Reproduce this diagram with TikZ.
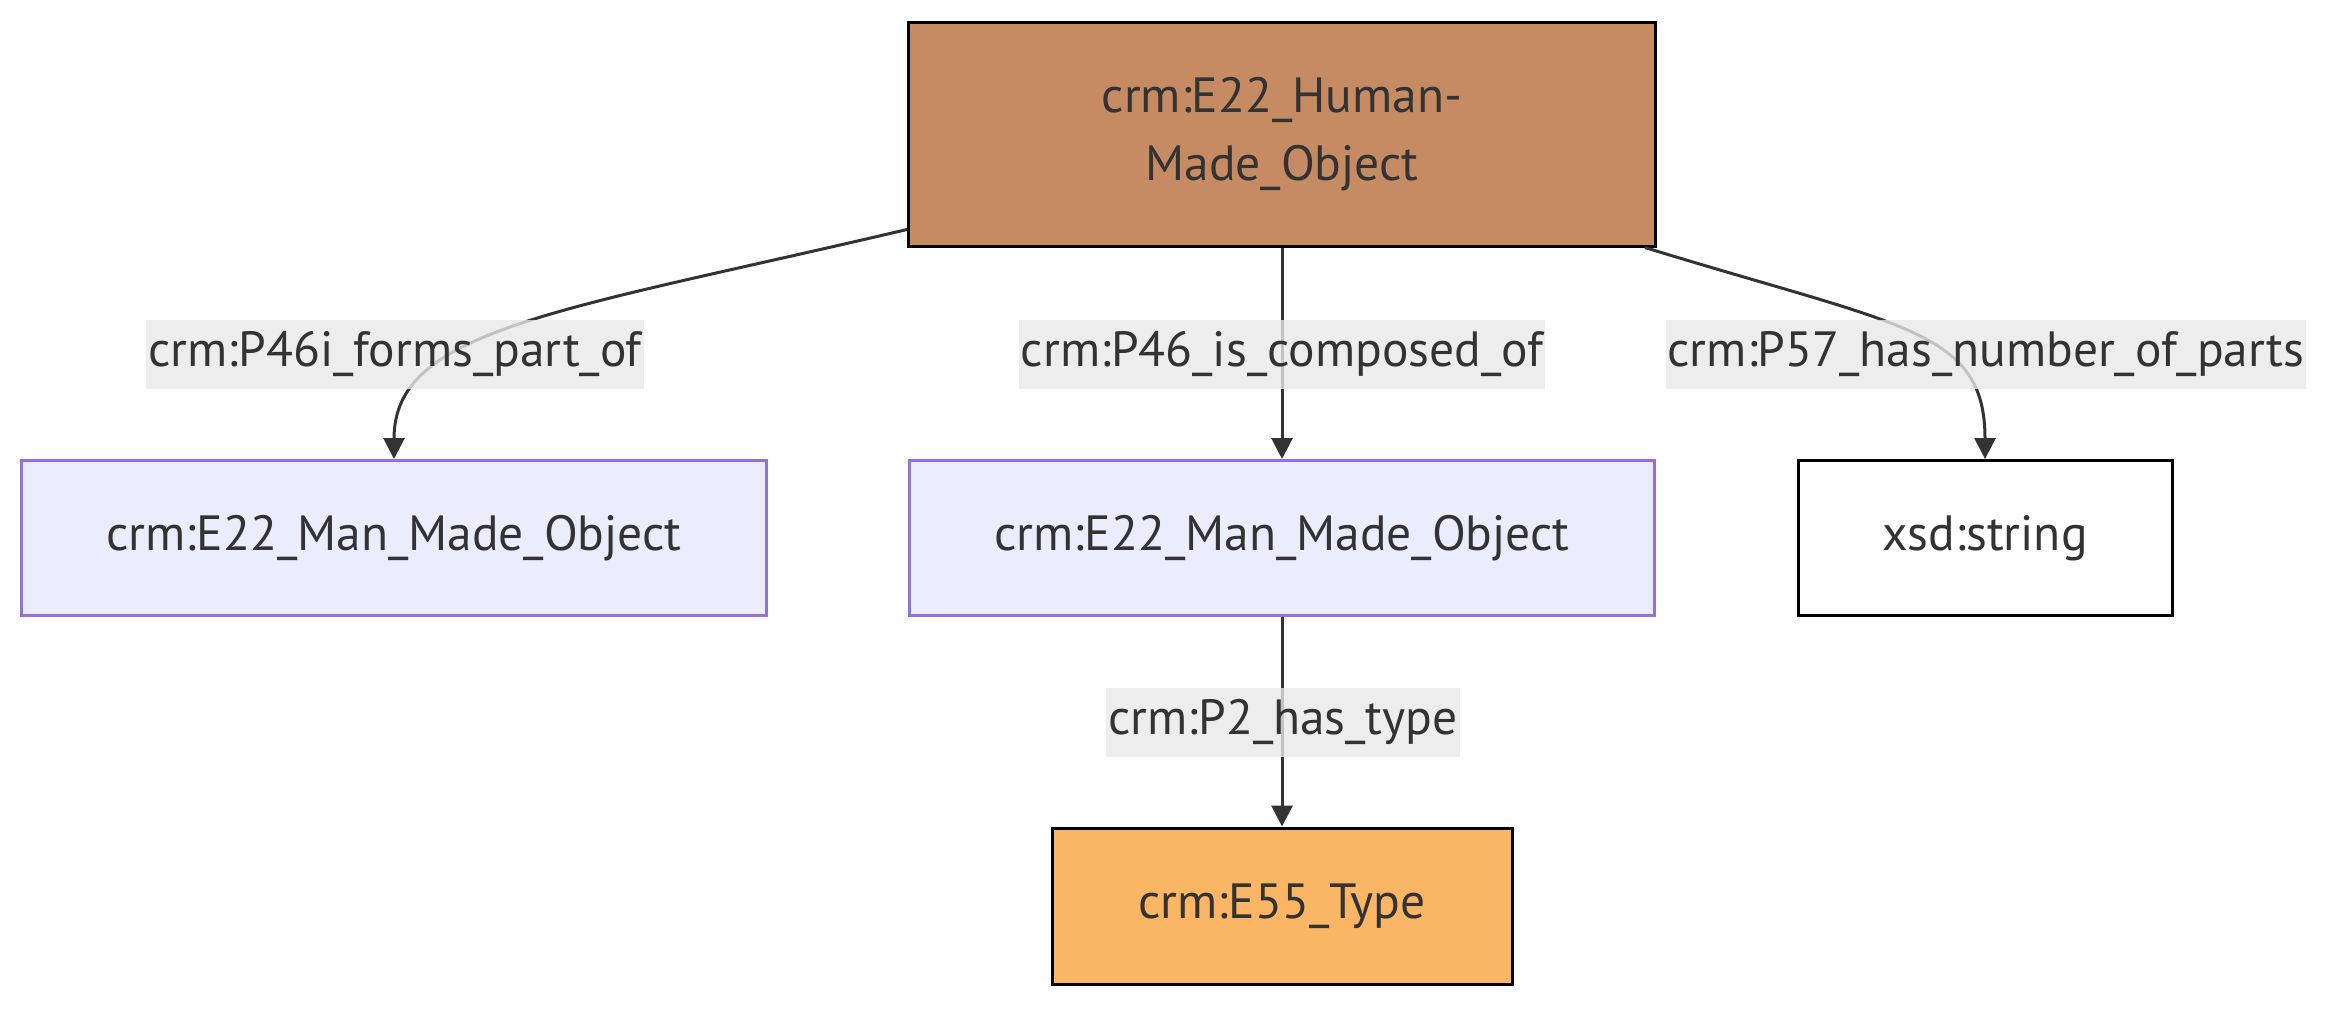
\documentclass[tikz,border=0pt]{standalone}
\usepackage{fontspec}
\setmainfont{PT Sans}
\usepackage{tikz}
\usetikzlibrary{arrows.meta}
\definecolor{objbrown}{RGB}{198,139,99}
\definecolor{typeorange}{RGB}{250,181,101}
\definecolor{classfill}{RGB}{236,236,255}
\definecolor{classline}{RGB}{147,112,219}
\definecolor{labelgray}{RGB}{232,232,232}
\definecolor{inkgray}{RGB}{51,51,51}
\tikzstyle{box} = [rectangle, inner sep=0pt, line width=3pt, align=center, text=inkgray, font=\fontsize{49.5}{68}\selectfont]
\tikzstyle{humanobj} = [box, fill=objbrown, draw=black, minimum width=747pt, minimum height=224pt]
\tikzstyle{manobj} = [box, fill=classfill, draw=classline, minimum width=745pt, minimum height=155pt]
\tikzstyle{literal} = [box, fill=white, draw=black, minimum width=374pt, minimum height=155pt]
\tikzstyle{typebox} = [box, fill=typeorange, draw=black, minimum width=460pt, minimum height=156pt]
\tikzstyle{proplabel} = [rectangle, inner xsep=2pt, inner ysep=0pt, minimum height=69pt, fill=labelgray, fill opacity=0.8, text opacity=1, text=inkgray, font=\fontsize{49.5}{68}\selectfont]
\tikzstyle{link} = [line width=3pt, draw=inkgray, -{Triangle[length=21pt,width=21pt]}]

\begin{document}
\begin{tikzpicture}[x=1pt, y=-1pt]
\useasboundingbox (0,0) rectangle (2352,1020);
% Classes
\node[humanobj] (hmo) at (1282, 134) {crm:E22\_Human-\\Made\_Object};
\node[manobj] (partof) at (394, 538) {crm:E22\_Man\_Made\_Object};
\node[manobj] (composed) at (1282, 538) {crm:E22\_Man\_Made\_Object};
\node[literal] (numparts) at (1985, 538) {xsd:string};
\node[typebox] (etype) at (1282, 906) {crm:E55\_Type};
% Properties
\draw[link] ([yshift=18pt]hmo.south west) .. controls +(-349,82) and +(0,-130) .. (partof.north);
\draw[link] (hmo.south) -- (composed.north);
\draw[link] ([xshift=-12pt]hmo.south east) .. controls +(256,79) and +(0,-130) .. (numparts.north);
\draw[link] (composed.south) -- (etype.north);
% Property labels
\node[proplabel] (lpartof) at (395, 354) {crm:P46i\_forms\_part\_of};
\node[proplabel] (lcomposed) at (1282, 354) {crm:P46\_is\_composed\_of};
\node[proplabel] (lnumparts) at (1986, 354) {crm:P57\_has\_number\_of\_parts};
\node[proplabel] (ltype) at (1283, 722) {crm:P2\_has\_type};
\end{tikzpicture}
\end{document}
